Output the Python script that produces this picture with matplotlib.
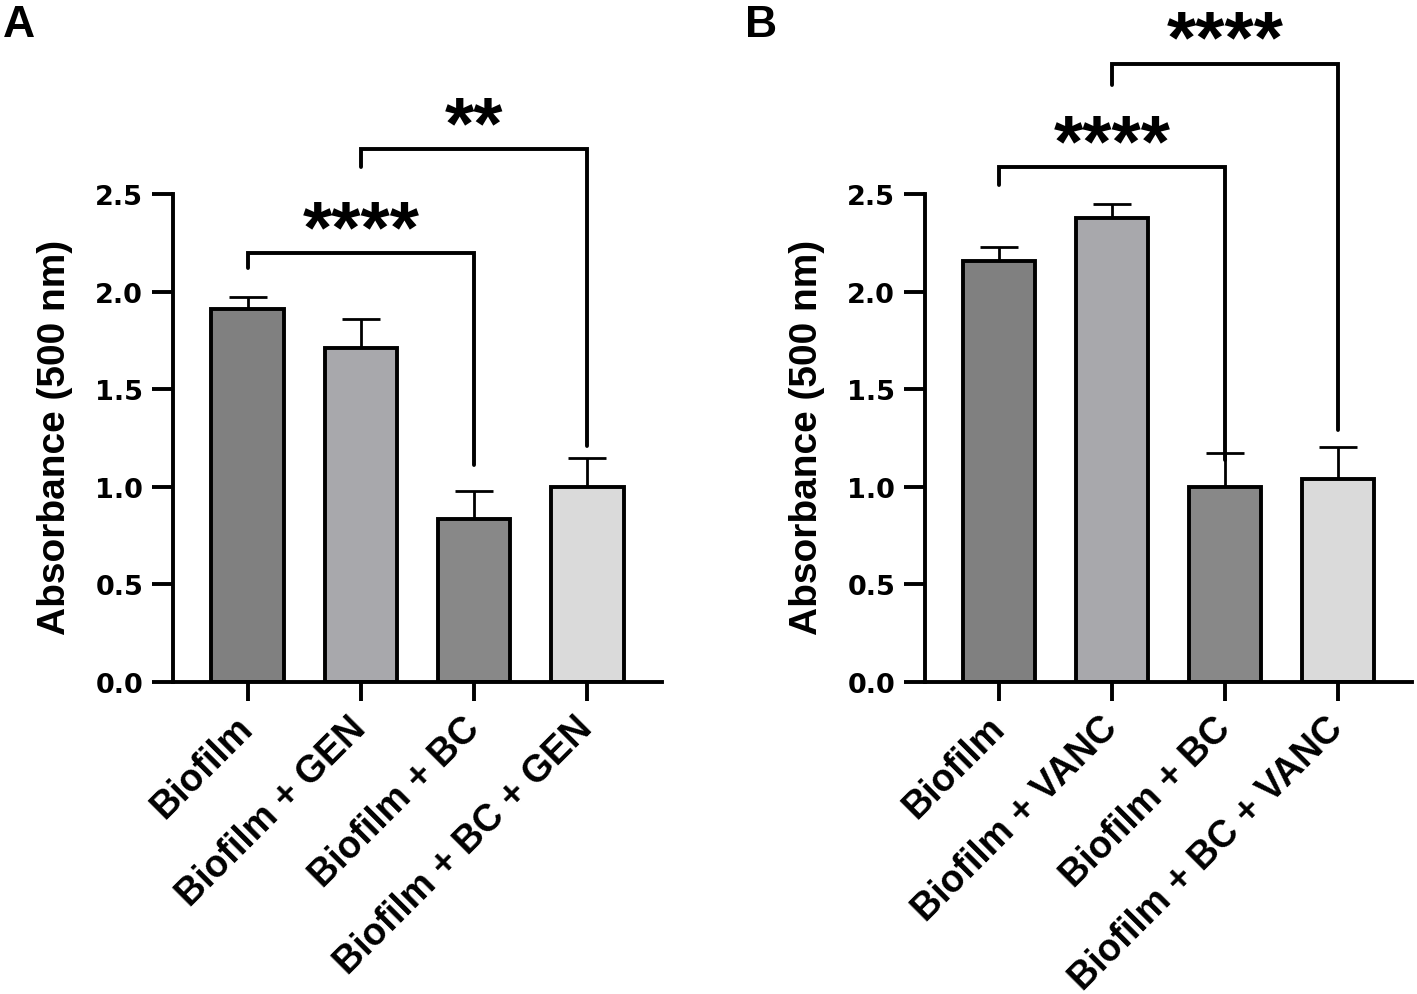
import matplotlib
matplotlib.use("Agg")
import matplotlib.pyplot as plt

plt.rcParams['font.family'] = ['Liberation Sans', 'DejaVu Sans']
plt.rcParams['font.weight'] = 'bold'

cats_A = ["Biofilm", "Biofilm + GEN", "Biofilm + BC", "Biofilm + BC + GEN"]
vals_A = [1.91, 1.71, 0.835, 1.0]
errs_A = [0.065, 0.15, 0.145, 0.15]

cats_B = ["Biofilm", "Biofilm + VANC", "Biofilm + BC", "Biofilm + BC + VANC"]
vals_B = [2.16, 2.38, 1.0, 1.04]
errs_B = [0.07, 0.07, 0.175, 0.165]

colors = ["#808080", "#a8a8ac", "#888888", "#dadada"]

# brackets: (i, j, y, left_leg_bottom, right_leg_bottom, label)
brackets_A = [(0, 2, 2.20, 2.12, 1.11, "****"), (1, 3, 2.73, 2.64, 1.21, "**")]
brackets_B = [(0, 2, 2.64, 2.55, 1.14, "****"), (1, 3, 3.17, 3.06, 1.29, "****")]

yticks = [0.0, 0.5, 1.0, 1.5, 2.0, 2.5]

fig = plt.figure(figsize=(14.17, 9.95), dpi=100)
bottom = 1 - 683 / 995
top = 1 - 10 / 995
axA = fig.add_axes([173 / 1417, bottom, (662 - 173) / 1417, top - bottom])
axB = fig.add_axes([925 / 1417, bottom, (1412 - 925) / 1417, top - bottom])

LW = 2.8

def draw(ax, cats, vals, errs, brackets):
    x = list(range(len(cats)))
    ax.bar(x, vals, width=0.64, color=colors, edgecolor="black", linewidth=LW, zorder=2)
    ax.errorbar(x, vals, yerr=[[0] * len(errs), errs], fmt="none", ecolor="black",
                elinewidth=2.0, capsize=14, capthick=2.0, zorder=1)
    ax.set_xlim(-0.66, 3.66)
    ax.set_ylim(0, 3.45)
    ax.spines['top'].set_visible(False)
    ax.spines['right'].set_visible(False)
    ax.spines['left'].set_bounds(0, 2.5)
    ax.spines['left'].set_linewidth(LW)
    ax.spines['bottom'].set_linewidth(LW)
    ax.set_yticks(yticks)
    ax.set_yticklabels([f"{t:.1f}" for t in yticks], fontsize=19.5, fontweight='bold',
                       family=['DejaVu Sans'])
    ax.set_xticks(x)
    ax.set_xticklabels(cats, rotation=45, ha='right', va='center', rotation_mode='anchor',
                       fontsize=27, fontweight='bold')
    ax.tick_params(axis='y', length=15, width=LW, pad=6.5)
    ax.tick_params(axis='x', length=14, width=LW, pad=15)
    ax.set_ylabel("Absorbance (500 nm)", fontsize=28, fontweight='bold')
    ax.yaxis.set_label_coords(-0.205, 2.5 / 3.45 / 2 + 0.003)
    for (i, j, y, lb, rb, lab) in brackets:
        ax.plot([i, i, j, j], [lb, y, y, rb], color="black", lw=2.8,
                solid_joinstyle='miter', solid_capstyle='round', clip_on=False)
        ax.text((i + j) / 2, y + 0.01, lab, ha='center', va='baseline',
                fontsize=54, fontweight='bold')

draw(axA, cats_A, vals_A, errs_A, brackets_A)
draw(axB, cats_B, vals_B, errs_B, brackets_B)

fig.text(3 / 1417, 1 - 37 / 995, "A", fontsize=32, fontweight='bold', va='baseline')
fig.text(745 / 1417, 1 - 37 / 995, "B", fontsize=32, fontweight='bold', va='baseline')

fig.savefig("out.png", dpi=100)
